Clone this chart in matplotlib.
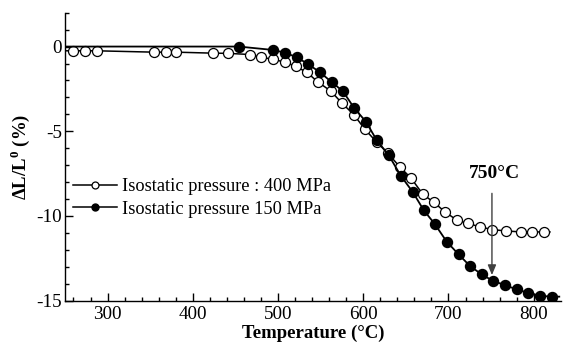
import matplotlib
matplotlib.use('Agg')

import matplotlib.pyplot as plt
from matplotlib.lines import Line2D
from matplotlib.ticker import MultipleLocator

# 400 MPa (open circles); first/last entries are line ends without markers
t_400 = [250, 259, 273, 287, 354, 368, 380, 424, 441, 467, 480, 494, 508, 521,
         534, 547, 562, 575, 589, 602, 616, 629, 643, 656, 670, 683, 696, 710,
         723, 737, 751, 767, 785, 798, 812, 819]
dl_400 = [-0.25, -0.25, -0.25, -0.25, -0.33, -0.33, -0.33, -0.39, -0.40, -0.47,
          -0.63, -0.75, -0.92, -1.17, -1.53, -2.10, -2.63, -3.34, -4.02, -4.89,
          -5.65, -6.30, -7.11, -7.76, -8.72, -9.20, -9.76, -10.25, -10.44,
          -10.64, -10.80, -10.88, -10.94, -10.94, -10.94, -10.94]

# 150 MPa (filled circles)
t_150 = [250, 454, 494, 508, 522, 535, 549, 563, 576, 589, 603, 616, 630, 644,
         658, 671, 684, 698, 712, 725, 739, 752, 766, 780, 793, 807, 821, 830]
dl_150 = [0.0, 0.0, -0.20, -0.36, -0.63, -1.03, -1.51, -2.10, -2.63, -3.60,
          -4.43, -5.54, -6.42, -7.62, -8.58, -9.66, -10.48, -11.52, -12.27,
          -12.94, -13.45, -13.82, -14.08, -14.33, -14.53, -14.71, -14.76, -14.76]

labels = ['Isostatic pressure : 400 MPa', 'Isostatic pressure 150 MPa']

plt.rcParams['font.family'] = ['Liberation Serif', 'DejaVu Serif']
plt.rcParams['mathtext.fontset'] = 'custom'
plt.rcParams['mathtext.rm'] = 'Liberation Serif'
plt.rcParams['mathtext.bf'] = 'Liberation Serif:bold'
plt.rcParams['axes.unicode_minus'] = False

fig = plt.figure(figsize=(5.74, 3.52), dpi=100)
ax = fig.add_axes([0.1132, 0.1457, 0.8641, 0.8183])

ax.plot(t_400, dl_400, '-', color='black', lw=1.1, marker='o', ms=7.2,
        mfc='white', mec='black', mew=0.9,
        markevery=list(range(1, len(t_400) - 1)))
ax.plot(t_150, dl_150, '-', color='black', lw=1.3, marker='o', ms=7.2,
        mfc='black', mec='black',
        markevery=list(range(1, len(t_150) - 1)))

ax.set_xlim(250, 832)
ax.set_ylim(-15, 2)

ax.xaxis.set_major_locator(MultipleLocator(100))
ax.xaxis.set_minor_locator(MultipleLocator(20))
ax.yaxis.set_major_locator(MultipleLocator(5))
ax.yaxis.set_minor_locator(MultipleLocator(1))
ax.tick_params(which='both', direction='in', labelsize=13.8, width=1)
ax.tick_params(which='major', length=6)
ax.tick_params(which='minor', length=3)
ax.tick_params(axis='y', pad=2)
ax.tick_params(axis='x', pad=4)

for s in ['top', 'right']:
    ax.spines[s].set_visible(False)
for s in ['left', 'bottom']:
    ax.spines[s].set_linewidth(1)

ax.set_xlabel('Temperature (°C)', fontsize=13.5, fontweight='bold', labelpad=1)
ax.set_ylabel(r'ΔL/L$^\mathbf{0}$ (%)', fontsize=13.5, fontweight='bold',
              labelpad=3)

ax.annotate('', xy=(751, -13.65), xytext=(751, -8.5),
            arrowprops=dict(arrowstyle='-|>,head_length=0.6,head_width=0.25',
                            color='0.25', lw=1))
ax.text(754, -7.5, '750°C', ha='center', va='center', fontsize=14,
        fontweight='bold')

handles = [Line2D([], [], color='black', lw=1.1, marker='o', ms=5,
                  mfc='white', mec='black', mew=0.9),
           Line2D([], [], color='black', lw=1.1, marker='o', ms=5,
                  mfc='black', mec='black')]
ax.legend(handles, labels, loc='upper left', bbox_to_anchor=(0.016, 0.425),
          frameon=False, fontsize=13.2, borderpad=0, borderaxespad=0,
          handlelength=2.4, handletextpad=0.3, labelspacing=0.3)

fig.savefig('out.png', dpi=100)
